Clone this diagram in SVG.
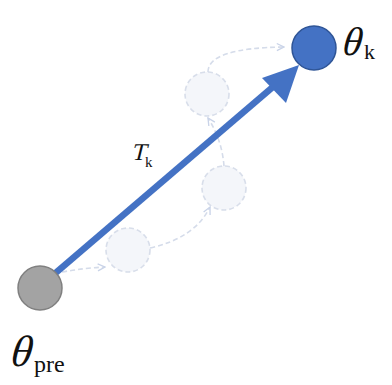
<svg xmlns="http://www.w3.org/2000/svg" width="392" height="385" viewBox="0 0 392 385">
<style>
.ghost{fill:#F4F6FA;stroke:#D8DEEA;stroke-width:1.6;stroke-dasharray:5 3}
.dc{fill:none;stroke:#D5DCEA;stroke-width:1.6;stroke-dasharray:5 3}
.t{font-family:"Liberation Serif",serif;fill:#111}
</style>
<defs>
<marker id="ah" viewBox="0 0 10 10" refX="9" refY="5" markerWidth="9" markerHeight="9" markerUnits="userSpaceOnUse" orient="auto">
<path d="M1,1 L9,5 L1,9" fill="none" stroke="#C9D3E8" stroke-width="1.5"/>
</marker>
</defs>
<g id="ghost1"><circle class="ghost" cx="128" cy="250" r="22"/></g>
<g id="ghost2"><circle class="ghost" cx="224" cy="188" r="22"/></g>
<g id="ghost3"><circle class="ghost" cx="207" cy="94" r="22"/></g>
<g id="connectors">
<path class="dc" d="M62,272 Q85,268 105,267" marker-end="url(#ah)"/>
<path class="dc" d="M150,248 Q195,238 210,207" marker-end="url(#ah)"/>
<path class="dc" d="M224,166 Q222,140 208,118" marker-end="url(#ah)"/>
<path class="dc" d="M208,72 Q208,48 284,47" marker-end="url(#ah)"/>
<line x1="52" y1="276" x2="274" y2="86" stroke="#4472C4" stroke-width="6.5"/>
<polygon points="299,65 262,78 286,103" fill="#4472C4"/>
</g>
<g id="pre"><circle cx="40" cy="288" r="22" fill="#A3A3A3" stroke="#808080" stroke-width="1.5"/>
<text class="t" x="0" y="0" font-size="44" transform="translate(8,366) skewX(-16)">θ</text>
<text class="t" x="34" y="372" font-size="24">pre</text></g>
<g id="k"><circle cx="314" cy="48" r="22" fill="#4472C4" stroke="#2F5597" stroke-width="1.5"/>
<text class="t" x="0" y="0" font-size="40" transform="translate(340,55) skewX(-16)">θ</text>
<text class="t" x="364" y="59" font-size="22">k</text></g>
<text class="t" x="0" y="0" font-size="24" transform="translate(131,160) skewX(-14)">T</text>
<text class="t" x="145" y="167" font-size="15">k</text>
</svg>
